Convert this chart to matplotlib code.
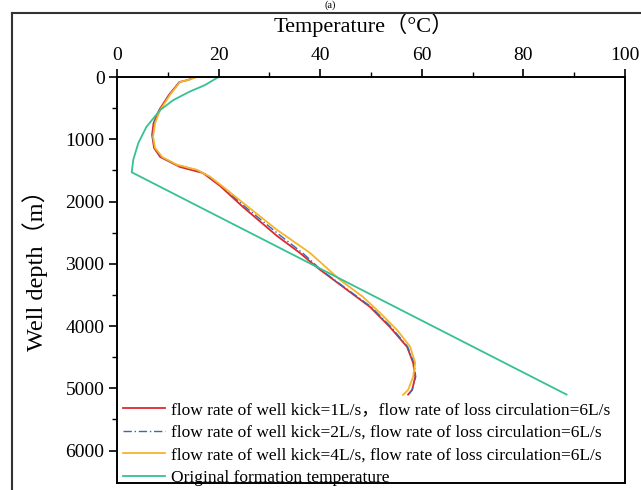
import matplotlib
matplotlib.use("Agg")
import matplotlib.pyplot as plt
from matplotlib.lines import Line2D

plt.rcParams['font.family'] = ['Liberation Serif', 'Noto Sans CJK SC', 'DejaVu Sans']
plt.rcParams['mathtext.fontset'] = 'stix'

# well kick 1 L/s, loss circulation 6 L/s
depth_q1 = [0, 50, 80, 290, 530, 740, 930, 1140, 1284, 1445, 1541, 1750, 2087, 2552, 2825,
            3066, 3419, 3692, 4013, 4334, 4591, 4815, 5024, 5100]
temp_q1 = [15.4, 13.9, 12.3, 10.2, 8.3, 7.2, 6.9, 7.3, 8.5, 12.4, 16.9, 20.3, 24.8, 31.5, 36.0,
           39.5, 45.3, 49.8, 53.7, 57.1, 58.3, 58.7, 58.1, 57.3]

# well kick 2 L/s
depth_q2 = [0, 50, 80, 290, 530, 740, 960, 1140, 1285, 1410, 1490, 1560, 1750, 2090, 2550, 2830,
            3100, 3420, 3690, 4010, 4330, 4590, 4815, 5025, 5100]
temp_q2 = [15.5, 13.9, 12.3, 10.3, 8.4, 7.3, 7.0, 7.4, 8.7, 11.8, 15.5, 17.5, 20.6, 25.3, 32.2, 36.6,
           40.2, 45.5, 50.0, 53.9, 57.2, 58.5, 58.8, 58.1, 57.4]

# well kick 4 L/s
depth_q4 = [0, 48, 80, 290, 530, 740, 960, 1140, 1285, 1410, 1490, 1600, 1765, 2020, 2455, 2825,
            3258, 3530, 3790, 4060, 4330, 4590, 4815, 5025, 5105]
temp_q4 = [15.7, 14.0, 12.4, 10.4, 8.5, 7.5, 7.1, 7.5, 8.9, 11.8, 15.7, 18.3, 20.9, 24.8, 31.5, 38.0,
           43.9, 48.4, 51.8, 55.1, 57.7, 58.7, 58.3, 57.3, 56.3]

# original formation temperature
depth_f = [0, 130, 235, 370, 530, 800, 1060, 1330, 1530, 5100]
temp_f = [20.0, 17.3, 14.3, 11.1, 8.5, 5.8, 4.2, 3.2, 2.9, 88.5]

labels = ['flow rate of well kick=1L/s，flow rate of loss circulation=6L/s',
          'flow rate of well kick=2L/s, flow rate of loss circulation=6L/s',
          'flow rate of well kick=4L/s, flow rate of loss circulation=6L/s',
          'Original formation temperature']

fig = plt.figure(figsize=(6.41, 4.90), dpi=100)
ax = fig.add_axes([117 / 641, 1 - 483 / 490, (625 - 117) / 641, (483 - 77) / 490])

ax.plot(temp_q1, depth_q1, color='#e0262b', lw=1.3, label=labels[0])
ax.plot(temp_q2, depth_q2, color='#2f6db5', lw=1.0, ls=(0, (6, 2, 1, 2)), label=labels[1])
ax.plot(temp_q4, depth_q4, color='#f6b42c', lw=1.3, label=labels[2])
ax.plot(temp_f, depth_f, color='#35c28f', lw=1.3, label=labels[3])

ax.set_xlim(0, 100)
ax.set_ylim(6520, 0)
ax.set_xticks([0, 20, 40, 60, 80, 100])
ax.set_xticks(range(10, 100, 20), minor=True)
ax.set_yticks(range(0, 7000, 1000))
ax.set_yticks(range(500, 6500, 1000), minor=True)
ax.xaxis.tick_top()
ax.xaxis.set_label_position('top')
ax.tick_params(axis='both', which='major', direction='out', length=6, width=1.2,
               labelsize=14, pad=3)
ax.tick_params(axis='both', which='minor', direction='out', length=3.5, width=1.0)
ax.tick_params(axis='x', which='both', bottom=False, top=True)
ax.tick_params(axis='y', which='both', right=False, left=True)
for s in ax.spines.values():
    s.set_linewidth(1.4)

ax.set_xlabel('Temperature（°C）', fontsize=16)
ax.set_ylabel('Well depth（m）', fontsize=17.5)
ax.xaxis.set_label_coords((364 - 117) / 508, (483 - 25) / 406)
ax.xaxis.label.set_va('center')
ax.yaxis.set_label_coords((35 - 117) / 508, (483 - 265) / 406)
ax.yaxis.label.set_va('center')

ax.legend(loc='lower left', frameon=False, fontsize=12.5, handlelength=2.4,
          handletextpad=0.35, labelspacing=0.38, borderaxespad=0.0, borderpad=0.0,
          bbox_to_anchor=(0.012, -0.008))

# figure frame and panel tag
fig.add_artist(Line2D([12 / 641, 12 / 641], [0, 1 - 13 / 490], color='#333333', lw=1.5))
fig.add_artist(Line2D([12 / 641, 1], [1 - 13 / 490, 1 - 13 / 490], color='#333333', lw=1.5))
fig.text(330 / 641, 0.999, '(a)', ha='center', va='top', fontsize=7.5)

fig.savefig('out.png', dpi=100)
